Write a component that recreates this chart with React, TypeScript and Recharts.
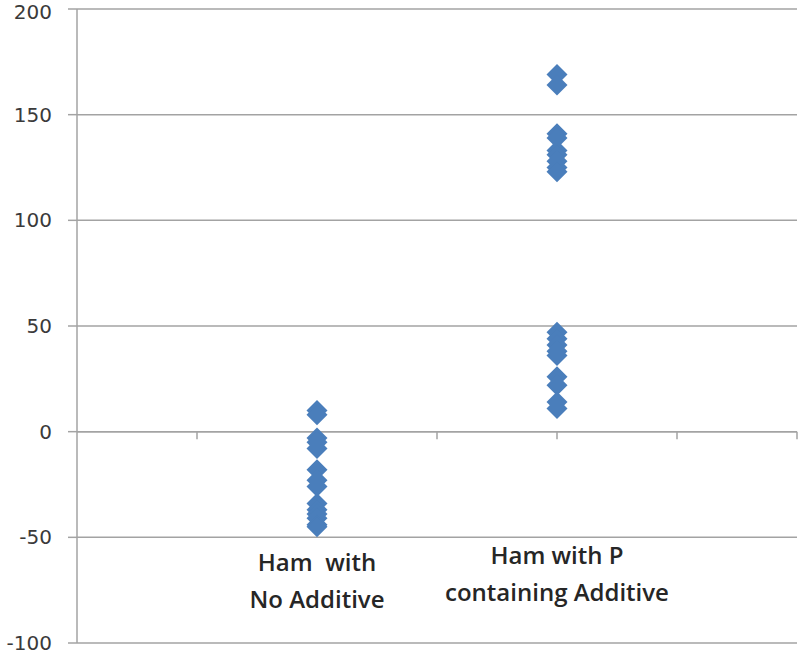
import { CartesianGrid, ReferenceDot, ReferenceLine, Scatter, ScatterChart, XAxis, YAxis } from "recharts";

// values, one array per group
const noAdditive = [10, 8, -3, -5, -8, -18, -23, -26, -34, -37, -39, -41, -44, -45];
const withPAdditive = [169, 164, 141, 139, 133, 131, 128, 125, 123, 47, 44, 41, 38, 36, 26, 22, 14, 11];

const groupX = [2, 4];
const groupLabels = [
  ["Ham  with", "No Additive"],
  ["Ham with P", "containing Additive"],
];
const labelY = [-62, -58.5];

const yTicks = [-100, -50, 0, 50, 100, 150, 200];
const xTicks = [1, 2, 3, 4, 5, 6];

const BLUE = "#4a7ebb";
const GRID = "#a3a3a3";

const series = [noAdditive, withPAdditive].map((vals, i) => vals.map((v) => ({ x: groupX[i], y: v })));

function Diamond(props: any) {
  const { cx, cy } = props;
  if (cx == null || cy == null) return null;
  const r = 10.5;
  return (
    <polygon
      points={`${cx},${cy - r} ${cx + r},${cy} ${cx},${cy + r} ${cx - r},${cy}`}
      fill={BLUE}
    />
  );
}

function twoLineLabel(lines: string[]) {
  return (p: any) => {
    const vb = p.viewBox || {};
    const cx = vb.x + (vb.width || 0) / 2;
    const cy = vb.y + (vb.height || 0) / 2;
    return (
      <text
        x={cx}
        y={cy}
        textAnchor="middle"
        fontFamily="'Open Sans', sans-serif"
        fontWeight={600}
        fontSize={24}
        fill="#262626"
        style={{ whiteSpace: "pre" }}
      >
        {lines.map((l, i) => (
          <tspan key={i} x={cx} dy={i === 0 ? "0.35em" : 37}>
            {l}
          </tspan>
        ))}
      </text>
    );
  };
}

export default function App() {
  return (
    <div style={{ position: "absolute", left: 0, top: 0, width: 800, height: 655, background: "#fff" }}>
      <ScatterChart width={800} height={655} margin={{ top: 9, right: 3, bottom: 12, left: 0 }}>
        <CartesianGrid vertical={false} stroke={GRID} strokeWidth={1.5} />
        <XAxis type="number" dataKey="x" domain={[0, 6]} ticks={[0, ...xTicks]} hide />
        <YAxis
          type="number"
          dataKey="y"
          domain={[-100, 200]}
          ticks={yTicks}
          width={77}
          tickSize={9}
          tickMargin={16}
          axisLine={{ stroke: GRID, strokeWidth: 1.5 }}
          tickLine={{ stroke: GRID, strokeWidth: 1.5 }}
          tick={{ fill: "#3a3a3a", fontSize: 20, fontFamily: "'DejaVu Sans', sans-serif" }}
        />
        <ReferenceLine y={0} stroke={GRID} strokeWidth={1.5} />
        {xTicks.map((t) => (
          <ReferenceLine
            key={t}
            segment={[
              { x: t, y: 0 },
              { x: t, y: -3.6 },
            ]}
            stroke={GRID}
            strokeWidth={1.5}
          />
        ))}
        {series.map((d, i) => (
          <Scatter key={i} data={d} shape={Diamond} isAnimationActive={false} />
        ))}
        {groupLabels.map((lines, i) => (
          <ReferenceDot
            key={i}
            x={groupX[i]}
            y={labelY[i]}
            r={1}
            fill="none"
            stroke="none"
            label={{ content: twoLineLabel(lines) }}
          />
        ))}
      </ScatterChart>
    </div>
  );
}
